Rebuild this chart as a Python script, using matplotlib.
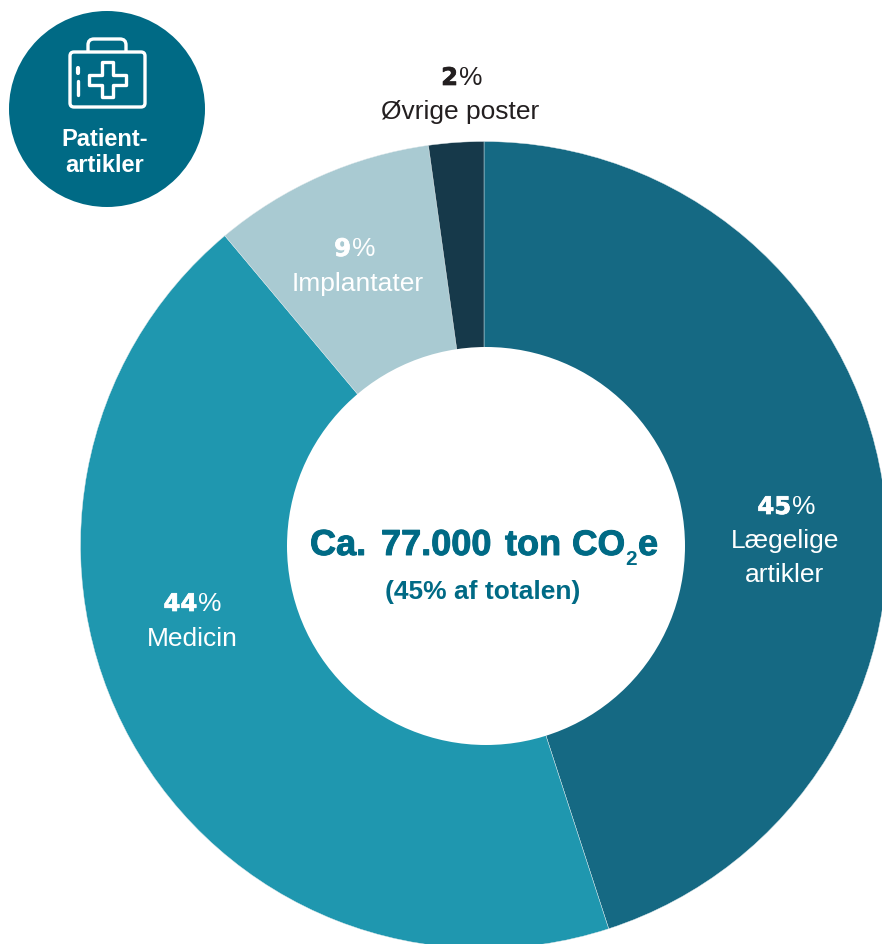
import matplotlib
matplotlib.use('Agg')
import matplotlib.pyplot as plt
import matplotlib.patheffects as pe
from matplotlib.patches import Circle, FancyBboxPatch, Polygon, PathPatch
from matplotlib.path import Path

# slices as measured in the picture, labels as printed on it
slices = [45, 43.9, 8.9, 2.2]
shares = [45, 44, 9, 2]
names = ['Lægelige\nartikler', 'Medicin', 'Implantater', 'Øvrige poster']
colors = ['#156983', '#1F97AF', '#A9CAD2', '#16394A']
title_words = ['Ca.', '77.000', 'ton', 'CO', 'e']
center_sub = '(45% af totalen)'
badge_label = 'Patient-\nartikler'

W = 882
H = 944
DARK = '#006A85'
plt.rcParams['font.family'] = ['Liberation Sans', 'DejaVu Sans']

fig = plt.figure(figsize=(W / 100, H / 100), dpi=100)
ax = fig.add_axes([0, 0, 1, 1])

# clockwise from the top, same order as the picture
ax.pie(slices, colors=colors, startangle=90, counterclock=False, center=(484, H - 545), radius=403.5,
       wedgeprops=dict(edgecolor='#dfe9ec', linewidth=0.3), frame=True)
ax.set_xlim(0, W)
ax.set_ylim(0, H)
ax.set_aspect('equal')
ax.axis('off')

# hole sits a little off center in the original
ax.add_patch(Circle((486, H - 546), 199, facecolor='white', edgecolor='none', zorder=3))


def pct(x, y, val, col):
    # number is heavy and wide, the percent sign is plain
    ax.text(x - 1, H - y, str(val), ha='right', va='center', fontsize=17.5, fontweight='bold', color=col,
            family='DejaVu Sans', path_effects=[pe.withStroke(linewidth=0.5, foreground=col)], zorder=5)
    ax.text(x, H - y, '%', ha='left', va='center', fontsize=19, color=col, zorder=5)


label_pos = [(792, 507, 785, 541, 575), (198, 604, 192, 639, None), (352, 249, 358, 284, None), (459, 78, 460, 112, None)]
label_cols = ['white', 'white', 'white', '#231F20']
for i in range(4):
    p = label_pos[i]
    pct(p[0], p[1], shares[i], label_cols[i])
    if p[4] is None:
        ax.text(p[2], H - p[3], names[i], ha='center', va='center', fontsize=19, color=label_cols[i], zorder=5)
    else:
        line1, line2 = names[i].split('\n')
        ax.text(p[2], H - p[3], line1, ha='center', va='center', fontsize=19, color=label_cols[i], zorder=5)
        ax.text(p[2], H - p[4], line2, ha='center', va='center', fontsize=19, color=label_cols[i], zorder=5)

# center text, word by word since the word gaps are wider than normal
word_x = [310, 381, 505, 572, 638]
heavy = [pe.withStroke(linewidth=0.7, foreground=DARK)]
for w, x in zip(title_words, word_x):
    fs = 25.5 if w == 'CO' else 26
    ax.text(x, H - 555, w, ha='left', va='baseline', fontsize=fs, fontweight='bold', color=DARK, path_effects=heavy, zorder=5)
ax.text(625, H - 565, '2', ha='left', va='baseline', fontsize=15, fontweight='bold', color=DARK, zorder=5)
ax.text(483, H - 592, center_sub, ha='center', va='center', fontsize=19, fontweight='bold', color=DARK, zorder=5)

# badge top left
ax.add_patch(Circle((107, H - 109), 98, facecolor=DARK, edgecolor='none', zorder=4))
ax.text(104.5, H - 139, badge_label.split('\n')[0], ha='center', va='center', fontsize=17, fontweight='bold', color='white', zorder=5)
ax.text(104.5, H - 166, badge_label.split('\n')[1], ha='center', va='center', fontsize=17, fontweight='bold', color='white', zorder=5)

# case icon
lw = 2.4
ax.add_patch(FancyBboxPatch((70, H - 107), 75, 55, boxstyle='round,pad=0,rounding_size=4', fill=False, edgecolor='white', linewidth=lw, zorder=5))
handle = Path([(88, H - 52), (88, H - 45), (88, H - 39), (94, H - 39), (120, H - 39), (126, H - 39), (126, H - 45), (126, H - 52)],
              [Path.MOVETO, Path.LINETO, Path.CURVE3, Path.CURVE3, Path.LINETO, Path.CURVE3, Path.CURVE3, Path.LINETO])
ax.add_patch(PathPatch(handle, fill=False, edgecolor='white', linewidth=lw, zorder=5))
ax.add_patch(Polygon([(x, H - y) for x, y in [(102, 62), (113, 62), (113, 75), (126, 75), (126, 85), (113, 85), (113, 97),
                                              (102, 97), (102, 85), (89, 85), (89, 75), (102, 75)]],
                     closed=True, fill=False, edgecolor='white', linewidth=lw, joinstyle='round', zorder=5))
ax.plot([77.5, 77.5], [H - 68, H - 73], color='white', linewidth=lw + 0.6, solid_capstyle='round', zorder=5)
ax.plot([77.5, 77.5], [H - 81, H - 95], color='white', linewidth=lw, solid_capstyle='round', zorder=5)

fig.savefig('out.png', dpi=100)
